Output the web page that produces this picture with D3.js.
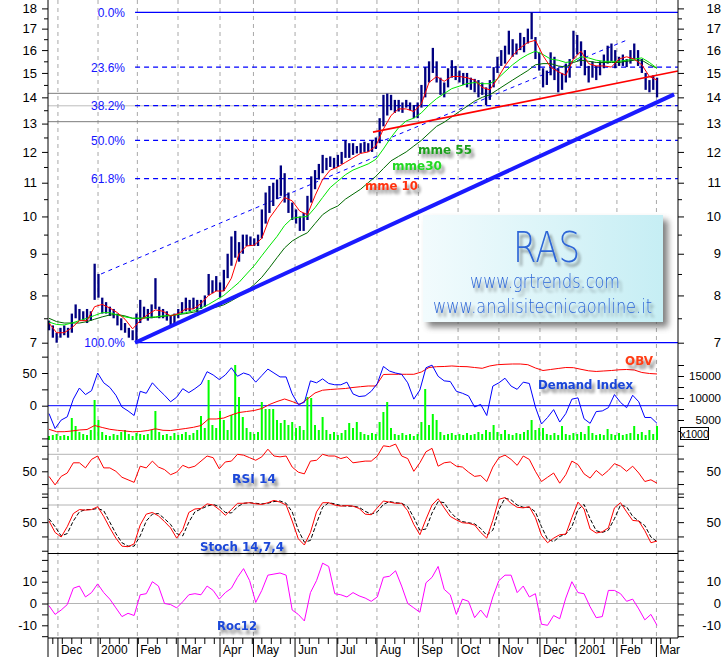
<!DOCTYPE html>
<html><head><meta charset="utf-8">
<script src="https://cdn.jsdelivr.net/npm/d3@7"></script>
<style>body{margin:0;background:#fff}svg{display:block}</style>
</head><body>
<svg id="c" width="726" height="657"></svg>
<script>
// ---------------- DATA ----------------
const monthStarts = [4.7,25.8,46.5,67.9,90,107.6,129.5,151.6,172.6,194.4,215.3,236.8,258.4,277.4,298.9,319.7];
const monthLabels = ["Dec","2000","Feb","Mar","Apr","May","Jun","Jul","Aug","Sep","Oct","Nov","Dec","2001","Feb","Mar"];

const STEP_BAR = 2;
const priceHigh = [7.45,7.35,7.2,7.3,7.35,7.3,7.6,7.8,7.7,7.65,
 7.7,7.65,8.75,8.5,7.95,7.85,7.75,7.7,7.6,7.5,
 7.4,7.3,7.25,7.6,7.9,7.75,7.7,7.8,8.4,7.75,
 7.7,7.65,7.55,7.6,7.7,7.85,7.95,7.9,7.95,7.9,
 7.9,8.0,8.5,8.35,8.45,8.3,8.6,9.0,9.45,9.6,
 9.3,9.5,9.5,9.45,9.4,9.5,10.2,10.7,10.9,11.0,
 11.1,11.55,11.3,10.7,10.4,10.2,10.0,10.1,10.6,11.2,
 11.4,11.6,11.9,11.8,11.85,11.8,11.9,12.0,12.4,12.3,
 12.3,12.2,12.3,12.35,12.3,12.4,12.5,13.2,14.1,14.15,
 14.1,13.9,13.9,13.8,13.9,13.8,13.7,13.8,14.5,15.25,
 15.5,16.1,15.5,14.8,14.6,15.2,15.55,15.3,15.1,15.0,
 15.0,14.8,14.75,14.7,14.6,14.4,14.7,15.25,15.7,16.0,
 16.2,16.9,16.5,16.3,16.8,16.6,17.0,17.8,16.6,15.9,
 15.2,15.1,15.9,15.7,15.2,15.0,15.4,15.6,16.9,16.7,
 16.4,16.0,15.3,15.5,15.3,15.5,15.8,16.2,16.3,16.0,
 15.7,15.8,15.6,16.0,16.3,16.0,15.6,15.0,14.7,14.9,14.8];
const priceLow = [7.25,7.1,7.0,7.1,7.15,7.1,7.2,7.5,7.45,7.45,
 7.4,7.45,7.9,7.95,7.6,7.6,7.55,7.5,7.35,7.25,
 7.2,7.1,7.05,7.0,7.4,7.5,7.45,7.5,7.7,7.5,
 7.5,7.45,7.35,7.35,7.5,7.6,7.65,7.65,7.7,7.65,
 7.7,7.75,8.0,8.05,8.1,7.95,8.1,8.4,8.7,8.9,
 8.8,9.0,9.2,9.2,9.2,9.2,9.4,9.8,10.1,10.3,
 10.5,10.6,10.4,10.1,9.9,9.8,9.6,9.6,9.9,10.4,
 10.8,11.1,11.3,11.4,11.5,11.45,11.5,11.6,11.8,11.8,
 11.9,11.95,11.95,12.0,12.0,12.0,12.1,12.3,12.9,13.3,
 13.5,13.4,13.45,13.4,13.6,13.5,13.2,13.2,13.6,14.0,
 14.6,15.0,14.6,14.1,14.0,14.4,14.8,14.7,14.6,14.5,
 14.4,14.3,14.2,14.0,14.1,13.7,13.9,14.4,15.0,15.3,
 15.4,15.8,15.7,15.8,16.0,15.9,16.3,16.5,15.6,15.1,
 14.4,14.5,14.9,14.7,14.2,14.3,14.6,14.8,15.6,15.8,
 15.3,14.9,14.6,14.8,14.7,14.9,15.2,15.4,15.5,15.2,
 15.3,15.3,15.25,15.4,15.6,15.3,15.0,14.3,14.2,14.3,14.0];
const volume = [160,200,240,160,200,160,880,560,320,240,
 200,400,1600,800,320,200,160,240,200,320,
 400,240,160,280,240,200,240,400,1160,320,
 200,240,160,280,200,240,320,200,280,400,
 960,480,2400,600,480,1160,800,400,1000,3000,
 1720,920,480,320,240,320,1520,1240,1240,1240,
 800,680,800,600,720,480,560,400,1720,1680,
 600,400,920,400,240,320,200,280,400,680,
 480,720,320,240,200,280,240,720,1120,1520,
 480,240,200,280,200,240,160,240,720,2040,
 600,1040,800,320,200,240,280,200,240,200,
 280,200,240,320,240,400,320,600,320,240,
 400,240,200,280,240,320,400,800,400,480,
 480,240,200,280,200,560,240,200,280,240,
 320,240,560,280,200,240,200,440,240,200,
 280,200,240,280,560,240,320,200,400,240,560];

const STEP_MA = 4;
const mme10 = [7.4,7.2,7.2,7.3,7.45,7.45,7.75,7.8,7.72,7.62,
 7.48,7.28,7.45,7.58,7.68,7.65,7.55,7.6,7.7,7.7,
 7.82,8.0,8.1,8.1,8.4,9.0,9.2,9.22,9.4,9.95,
 10.25,10.55,10.45,10.15,10.05,10.6,11.1,11.4,11.5,11.65,
 11.8,11.95,12.0,12.2,12.8,13.3,13.55,13.55,13.45,13.75,
 14.6,14.85,14.65,14.85,14.85,14.8,14.7,14.4,14.3,14.75,
 15.3,15.75,16.1,16.35,16.45,15.75,15.25,15.05,14.9,15.6,
 15.95,15.4,15.3,15.3,15.25,15.6,15.7,15.6,15.35,14.85,14.7];
const mme30 = [7.42,7.37,7.36,7.4,7.45,7.5,7.56,7.62,7.62,7.57,
 7.53,7.5,7.5,7.52,7.53,7.55,7.56,7.58,7.62,7.66,
 7.72,7.8,7.9,8.0,8.15,8.3,8.5,8.7,8.95,9.2,
 9.45,9.75,9.95,9.98,10.0,10.25,10.55,10.85,11.05,11.25,
 11.4,11.5,11.6,11.75,12.1,12.5,12.85,13.1,13.2,13.4,
 13.7,13.95,14.15,14.35,14.45,14.55,14.6,14.55,14.55,14.75,
 15.05,15.35,15.6,15.8,15.95,15.8,15.6,15.55,15.45,15.5,
 15.7,15.65,15.55,15.5,15.5,15.5,15.55,15.6,15.65,15.45,15.2];
const mme55 = [7.5,7.43,7.4,7.4,7.4,7.43,7.48,7.53,7.57,7.58,
 7.55,7.5,7.5,7.51,7.52,7.54,7.56,7.58,7.6,7.63,
 7.66,7.7,7.74,7.79,7.88,7.98,8.1,8.25,8.42,8.65,
 8.9,9.15,9.33,9.45,9.55,9.8,10.05,10.2,10.3,10.5,
 10.65,10.8,11.0,11.2,11.45,11.7,11.85,12.0,12.2,12.4,
 12.65,12.9,13.05,13.25,13.45,13.65,13.85,14.0,14.1,14.3,
 14.5,14.7,14.9,15.1,15.35,15.4,15.4,15.3,15.25,15.45,
 15.55,15.5,15.45,15.45,15.45,15.45,15.5,15.55,15.55,15.35,15.2];
const obv = [2890,2340,2340,2500,2730,2840,3750,3300,2890,2660,
 2500,2320,2390,2610,3000,2660,2610,2840,3070,3340,
 3750,5230,5230,5450,6140,6700,6930,7160,7610,8520,
 9200,9770,9200,8520,9770,11140,11770,11930,12050,12160,
 12390,12570,12730,12730,15340,15390,15390,15390,15390,15910,
 16930,17120,17160,17280,17160,17120,16930,16750,17280,17570,
 17660,17730,17730,17570,16820,16250,16480,16710,16930,16890,
 16520,16180,16030,16140,16250,16410,16480,16370,15800,15570,15460];

const STEP_IND = 3.2;
const demandIndex = [-12,-35,-22,-17,10,27,17,23,50,35,
 28,16,-2,-8,-15,22,19,35,25,16,
 6,13,26,20,26,33,52,47,40,47,
 58,45,50,47,36,46,56,50,44,44,
 18,2,5,38,35,41,34,32,32,36,
 18,14,15,22,34,60,53,50,48,35,
 10,24,58,62,45,38,37,22,19,15,
 -2,2,-15,30,35,42,30,25,36,34,
 -2,-28,-18,-6,-25,-12,10,12,-20,-27,
 -9,-8,-3,17,5,-3,16,6,-18,-18,-27];
const rsi14 = [44,34,44,48,60,60,54,64,68,54,
 54,50,43,40,37,56,54,62,55,52,
 46,49,57,54,56,62,68,66,53,61,
 62,70,69,66,63,67,76,68,67,68,
 55,49,47,62,63,70,68,68,65,67,
 60,61,62,62,68,80,79,82,68,65,
 50,60,73,77,56,60,61,56,55,49,
 44,45,38,55,66,69,64,57,68,64,
 50,38,43,48,36,46,62,58,47,42,
 51,45,51,59,56,50,56,48,38,40,36];
const stochK = [52,32,24,42,65,72,71,72,77,60,
 40,22,8,7,12,45,64,67,61,51,
 40,22,37,67,73,74,82,80,72,62,
 72,83,83,84,82,81,84,88,85,80,
 52,21,10,32,68,84,84,80,78,79,
 78,74,64,63,75,87,85,83,83,70,
 46,28,55,80,91,75,60,54,49,48,
 45,32,22,53,90,93,83,76,75,77,
 58,27,14,22,28,29,58,85,73,38,
 31,33,40,75,84,68,53,52,35,14,17];
const stochD = [56,42,26,30,52,68,72,72,74,70,
 50,30,14,8,8,26,52,64,65,56,
 46,30,26,50,68,73,78,81,77,67,
 66,77,83,84,83,82,83,86,87,83,
 68,36,15,18,48,76,84,82,79,78,
 78,76,69,64,68,81,86,84,83,77,
 58,36,38,66,86,84,68,57,51,49,
 47,39,27,36,72,92,89,80,76,76,
 68,42,20,16,25,29,42,72,81,56,
 35,32,36,56,80,77,60,52,44,24,16];
const roc12 = [-1,-5,-3,-0.5,7,8,3,5,9,5,
 2,-2,-6,-4.5,-5.5,4,4.5,10,8,0,
 -0.5,-2,0.8,4,4.5,4,8,6,2,5,
 7,12,16,10.5,0.5,6,13,13.5,14,13,
 -3,-5,-8,5,10.5,18.5,17,4.5,4,3,
 5,3.5,2.5,1,3,12,12.5,15,8,0,
 -2,-4,9.5,12,17,6.5,4,-5,2,1,
 -6.5,-3,-6.5,3,10.5,13,13,5,8,3,
 4.5,-9.5,-10,-5.5,-7,2.5,10,5,4.5,-1.5,
 -6.5,-6,6,6,4.5,1,2,-2.5,-7.5,-5,-10];

const fibLevels = [0, 23.6, 38.2, 50, 61.8, 100];
const fibHigh = 17.8, fibLow = 7.0, fibStartDay = 45.3;
const supportLevels = [14.16, 13.67, 13.07];
const thickTrend = [[45.3, 7.0], [329, 14.12]];
const redTrend = [[170.5, 12.69], [331, 15.08]];
const channelA = [[27.4, 8.5], [174.2, 11.9]];
const channelB = [[176.8, 12.41], [304.2, 16.46]];

const priceTickLabels = [7,8,9,10,11,12,13,14,15,16,17,18];
const diTickLabels = [0, 50];
const obvTickLabels = [5000, 10000, 15000];
const oscTickLabels = [50];
const rocTickLabels = [-10, 0, 10];

// ---------------- DRAW ----------------
const svg = d3.select('#c');
const L = 48, R = 678, B = 638;
const x = d3.scaleLinear().domain([0, 331]).range([49, 677.9]);
const yP = d3.scaleLog().domain([7, 18]).range([342.7, 8.4]);
const yDI = d3.scaleLinear().domain([0, 50]).range([405.7, 373]);
const yOBV = d3.scaleLinear().domain([5000, 15000]).range([420, 376]);
const yVol = d3.scaleLinear().domain([0, 3000]).range([440, 365]);
const yRSI = d3.scaleLinear().domain([30, 70]).range([488.3, 454.3]);
const ySt = d3.scaleLinear().domain([20, 80]).range([539.3, 505]);
const yRoc = d3.scaleLinear().domain([-10, 10]).range([625.3, 581.7]);
const FONT = 'Liberation Sans, Arial, sans-serif';

svg.append('defs').html(`
<filter id="tsh" x="-15%" y="-40%" width="140%" height="200%">
 <feGaussianBlur in="SourceAlpha" stdDeviation="1.6" result="b"/>
 <feOffset in="b" dx="3" dy="4" result="o"/>
 <feComponentTransfer in="o" result="s"><feFuncA type="linear" slope="0.45"/></feComponentTransfer>
 <feMerge><feMergeNode in="s"/><feMergeNode in="SourceGraphic"/></feMerge>
</filter>
<filter id="bsh" x="-10%" y="-10%" width="130%" height="130%"><feGaussianBlur stdDeviation="3"/></filter>
<linearGradient id="rasg" x1="0" x2="1" y1="0" y2="0">
 <stop offset="0" stop-color="#f2fbfd"/><stop offset="1" stop-color="#c6eef4"/>
</linearGradient>`);

svg.append('rect').attr('width', 726).attr('height', 657).attr('fill', '#fff');

svg.append('g').selectAll('line').data(monthStarts).join('line')
  .attr('x1', d => x(d)).attr('x2', d => x(d)).attr('y1', 0).attr('y2', B)
  .attr('stroke', '#a8a8a8').attr('stroke-dasharray', '4,4');

const hline = (y, color) => svg.append('line').attr('x1', L).attr('x2', R).attr('y1', y).attr('y2', y).attr('stroke', color);
const supColors = ['#7c7c7c', '#bcbcbc', '#7c7c7c'];
supportLevels.forEach((p, i) => hline(yP(p), supColors[i]));
[70, 30].forEach(v => hline(yRSI(v), '#b4b4b4'));
[80, 20].forEach(v => hline(ySt(v), '#b4b4b4'));
hline(yRoc(0), '#b4b4b4');
hline(yDI(0), '#0000ff');
hline(553.5, '#000');
hline(B, '#000');

fibLevels.forEach(lv => {
  const p = fibHigh - lv / 100 * (fibHigh - fibLow);
  const solid = lv === 0 || lv === 100;
  svg.append('line').attr('x1', x(fibStartDay)).attr('x2', R).attr('y1', yP(p)).attr('y2', yP(p))
    .attr('stroke', '#0000ff').attr('stroke-width', 1.2).attr('stroke-dasharray', solid ? null : '5,4');
  svg.append('text').attr('x', 125).attr('y', yP(p) + 4.5).attr('text-anchor', 'end')
    .attr('font-family', FONT).attr('font-size', 12).attr('fill', '#1414ff').text(lv.toFixed(1) + '%');
});

const segLine = d3.line().x(d => x(d[0])).y(d => yP(d[1]));
[channelA, channelB].forEach(c => svg.append('path').attr('d', segLine(c)).attr('fill', 'none')
  .attr('stroke', '#0000ff').attr('stroke-dasharray', '4,4'));

svg.append('g').selectAll('rect').data(volume).join('rect')
  .attr('x', (d, i) => x(i * STEP_BAR) - 1).attr('width', 2)
  .attr('y', d => yVol(d)).attr('height', d => yVol(0) - yVol(d)).attr('fill', '#00ff00');

svg.append('g').selectAll('rect').data(priceHigh).join('rect')
  .attr('x', (d, i) => x(i * STEP_BAR) - 1.1).attr('width', 2.3)
  .attr('y', d => yP(d)).attr('height', (d, i) => Math.max(1, yP(priceLow[i]) - yP(d)))
  .attr('fill', '#000080');

const series = (arr, step, ys, color, w, dash) => svg.append('path')
  .attr('d', d3.line().x((d, i) => x(i * step)).y(d => ys(d))(arr))
  .attr('fill', 'none').attr('stroke', color).attr('stroke-width', w || 1)
  .attr('stroke-dasharray', dash || null).attr('stroke-linejoin', 'round');
series(mme55, STEP_MA, yP, '#006a00');
series(mme30, STEP_MA, yP, '#00e600');
series(mme10, STEP_MA, yP, '#ff0000');
series(obv, STEP_MA, yOBV, '#ff0000');
series(demandIndex, STEP_IND, yDI, '#0000ff');
series(rsi14, STEP_IND, yRSI, '#ff0000');
series(stochD, STEP_IND, ySt, '#000000', 1, '4,2');
series(stochK, STEP_IND, ySt, '#ff0000');
series(roc12, STEP_IND, yRoc, '#ff00ff');

svg.append('path').attr('d', segLine(redTrend)).attr('stroke', '#ff0000').attr('stroke-width', 1.6).attr('fill', 'none');
svg.append('path').attr('d', segLine(thickTrend)).attr('stroke', '#1a1aff').attr('stroke-width', 4).attr('fill', 'none');

// axes
function sideAxis(scale, pos, right, values, labels, size, tick) {
  const ax = (right ? d3.axisRight(scale) : d3.axisLeft(scale))
    .tickValues(values).tickSize(tick || 6).tickPadding(5)
    .tickFormat(d => labels.includes(d) ? String(d) : '');
  const g = svg.append('g').attr('transform', `translate(${pos},0)`).call(ax);
  g.select('.domain').remove();
  g.attr('font-family', FONT).attr('font-size', size);
  if (right) { g.attr('text-anchor', 'end'); g.selectAll('text').attr('x', 43); }
}
function bothAxes(scale, values, labels, size, minor) {
  sideAxis(scale, L, false, values, labels, size);
  sideAxis(scale, R, true, values, labels, size);
  if (minor) { sideAxis(scale, L, false, minor, [], size, 4); sideAxis(scale, R, true, minor, [], size, 4); }
}
bothAxes(yP, priceTickLabels, priceTickLabels, 13, d3.range(7.5, 18, 1));
sideAxis(yDI, L, false, [-50, -25, 0, 25, 50, 75], diTickLabels, 13);
sideAxis(yOBV, R, true, [2500, 5000, 7500, 10000, 12500, 15000, 17500], obvTickLabels, 11.5);
svg.append('rect').attr('x', 680.5).attr('y', 427.5).attr('width', 28).attr('height', 12).attr('fill', '#fff').attr('stroke', '#000');
svg.append('text').attr('x', 694.5).attr('y', 437.5).attr('text-anchor', 'middle').attr('font-family', FONT).attr('font-size', 10.5).text('x1000');
bothAxes(yRSI, [20, 35, 50, 65, 80], oscTickLabels, 13);
bothAxes(ySt, [0, 25, 50, 75, 100], oscTickLabels, 13);
bothAxes(yRoc, [-15, -10, -5, 0, 5, 10, 15, 20], rocTickLabels, 13);

svg.append('line').attr('x1', L).attr('x2', L).attr('y1', 0).attr('y2', 657).attr('stroke', '#000');
svg.append('line').attr('x1', R).attr('x2', R).attr('y1', 0).attr('y2', B).attr('stroke', '#000');

const weekTicks = d3.range(2, 330, 5);
svg.append('g').selectAll('line').data(weekTicks).join('line')
  .attr('x1', d => x(d)).attr('x2', d => x(d)).attr('y1', B).attr('y2', B + 6).attr('stroke', '#000');
const mg = svg.append('g').selectAll('g').data(monthStarts).join('g');
mg.append('line').attr('x1', d => x(d)).attr('x2', d => x(d)).attr('y1', B).attr('y2', 657).attr('stroke', '#000');
mg.append('text').attr('x', d => x(d) + 3).attr('y', 653.5).attr('font-family', FONT).attr('font-size', 12)
  .text((d, i) => monthLabels[i]);

function label(t, x0, yb, color, len) {
  svg.append('text').attr('x', x0).attr('y', yb).attr('font-family', 'DejaVu Sans, Verdana, sans-serif')
    .attr('font-weight', 'bold').attr('font-size', 13).attr('fill', color)
    .attr('textLength', len).attr('lengthAdjust', 'spacingAndGlyphs').attr('filter', 'url(#tsh)').text(t);
}
label('OBV', 625, 365, '#ff3c14', 28);
label('Demand Index', 538, 389, '#1a46d8', 95);
label('RSI 14', 232, 482.5, '#1a46d8', 44);
label('Stoch 14,7,4', 200, 551, '#1a46d8', 84);
label('Roc12', 217, 630, '#1a46d8', 40);
label('mme 55', 418, 154, '#1f9f1f', 54);
label('mme30', 392, 170, '#22d822', 50);
label('mme 10', 365, 190, '#ff3210', 53);
const legLine = (x1, x2, y, c) => svg.append('line').attr('x1', x1).attr('x2', x2).attr('y1', y).attr('y2', y)
  .attr('stroke', c).attr('stroke-width', 1.3).attr('filter', 'url(#tsh)');
legLine(477, 510, 154.5, '#1f9f1f');
legLine(447, 480, 170.5, '#22d822');
legLine(423, 458, 190.5, '#ff3210');

svg.append('rect').attr('x', 428).attr('y', 220).attr('width', 240).attr('height', 107)
  .attr('fill', '#555').attr('opacity', 0.75).attr('filter', 'url(#bsh)');
svg.append('rect').attr('x', 423).attr('y', 215).attr('width', 240).attr('height', 107).attr('fill', 'url(#rasg)');
const rasText = (t, cx, yb, size, len) => svg.append('text').attr('x', cx).attr('y', yb)
  .attr('text-anchor', 'middle').attr('font-family', 'DejaVu Sans, sans-serif').attr('font-weight', 200)
  .attr('font-size', size).attr('fill', '#2e66d6').attr('textLength', len).attr('lengthAdjust', 'spacingAndGlyphs')
  .attr('filter', 'url(#tsh)').text(t);
rasText('RAS', 546.5, 262, 42, 67);
rasText('www.grtrends.com', 545, 288, 19, 150);
rasText('www.analisitecnicaonline.it', 542.5, 313, 19, 219);
</script>
</body></html>
